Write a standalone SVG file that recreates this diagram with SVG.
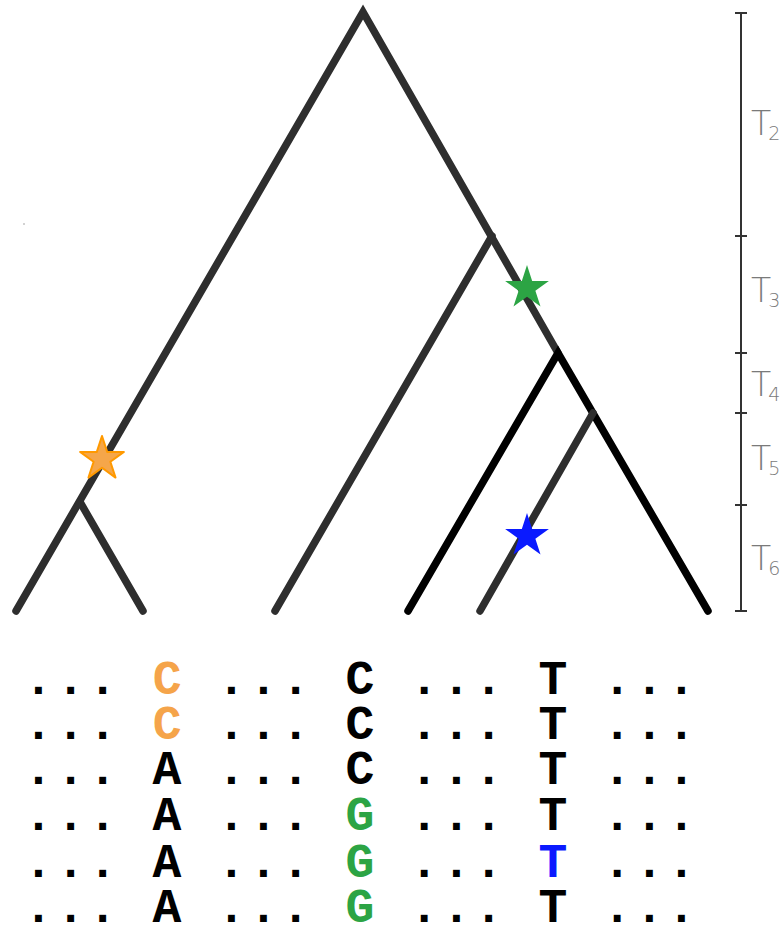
<svg xmlns="http://www.w3.org/2000/svg" width="780" height="928" viewBox="0 0 780 928">
<style>
.br{stroke:#2e2e2e;stroke-width:7.5;stroke-linecap:round;fill:none}
.bk{stroke:#000;stroke-width:7.5;stroke-linecap:round;fill:none}
.ax{stroke:#333;stroke-width:2;fill:none}
.lab{font-family:"DejaVu Sans",sans-serif;font-weight:200;fill:#7a7a7a;font-size:33px}
.sub{font-size:19px}
.seq{font-family:"Courier New","Liberation Mono",monospace;font-weight:bold;font-size:48px;letter-spacing:3.35px;fill:#000}
.o{fill:#f5a44a}.g{fill:#2ca444}.b{fill:#0a1aff}
</style>
<defs>
<path id="star" d="M0,-23 L5.17,-7.12 L21.88,-7.11 L8.37,2.72 L13.52,18.61 L0,8.8 L-13.52,18.61 L-8.37,2.72 L-21.88,-7.11 L-5.17,-7.12 Z"/>
</defs>
<rect width="780" height="928" fill="#fff"/>
<g id="connectors">
<polyline class="br" points="16,611 363,12 558,353"/>
<line class="br" x1="80" y1="502" x2="143" y2="611"/>
<line class="br" x1="492" y1="236" x2="275" y2="611"/>
<polyline class="bk" points="408,611 558,353 708,611"/>
<line class="br" x1="593" y1="413" x2="480" y2="611"/>
</g>
<g id="star-orange"><use href="#star" transform="translate(102,459)" fill="#f5a64a" stroke="#ff9900" stroke-width="2" stroke-linejoin="round"/></g>
<g id="star-green"><use href="#star" transform="translate(527,288)" fill="#2ca444"/></g>
<g id="star-blue"><use href="#star" transform="translate(527,536)" fill="#0a1aff"/></g>
<circle cx="24" cy="224" r="0.8" fill="#999"/>
<g id="scale">
<line class="ax" x1="741" y1="13" x2="741" y2="611"/>
<line class="ax" x1="735" y1="13" x2="747" y2="13"/>
<line class="ax" x1="735" y1="236" x2="747" y2="236"/>
<line class="ax" x1="735" y1="353" x2="747" y2="353"/>
<line class="ax" x1="735" y1="413" x2="747" y2="413"/>
<line class="ax" x1="735" y1="505" x2="747" y2="505"/>
<line class="ax" x1="735" y1="611" x2="747" y2="611"/>
<text class="lab" x="751" y="135">T<tspan class="sub" dx="-3" dy="5">2</tspan></text>
<text class="lab" x="751" y="302">T<tspan class="sub" dx="-3" dy="5">3</tspan></text>
<text class="lab" x="751" y="396">T<tspan class="sub" dx="-3" dy="5">4</tspan></text>
<text class="lab" x="751" y="470">T<tspan class="sub" dx="-3" dy="5">5</tspan></text>
<text class="lab" x="751" y="570">T<tspan class="sub" dx="-3" dy="5">6</tspan></text>
</g>
<g id="sequences">
<text class="seq" x="24" y="694">... <tspan class="o">C</tspan> ... C ... T ...</text>
<text class="seq" x="24" y="739">... <tspan class="o">C</tspan> ... C ... T ...</text>
<text class="seq" x="24" y="784">... A ... C ... T ...</text>
<text class="seq" x="24" y="830">... A ... <tspan class="g">G</tspan> ... T ...</text>
<text class="seq" x="24" y="877">... A ... <tspan class="g">G</tspan> ... <tspan class="b">T</tspan> ...</text>
<text class="seq" x="24" y="922">... A ... <tspan class="g">G</tspan> ... T ...</text>
</g>
</svg>
